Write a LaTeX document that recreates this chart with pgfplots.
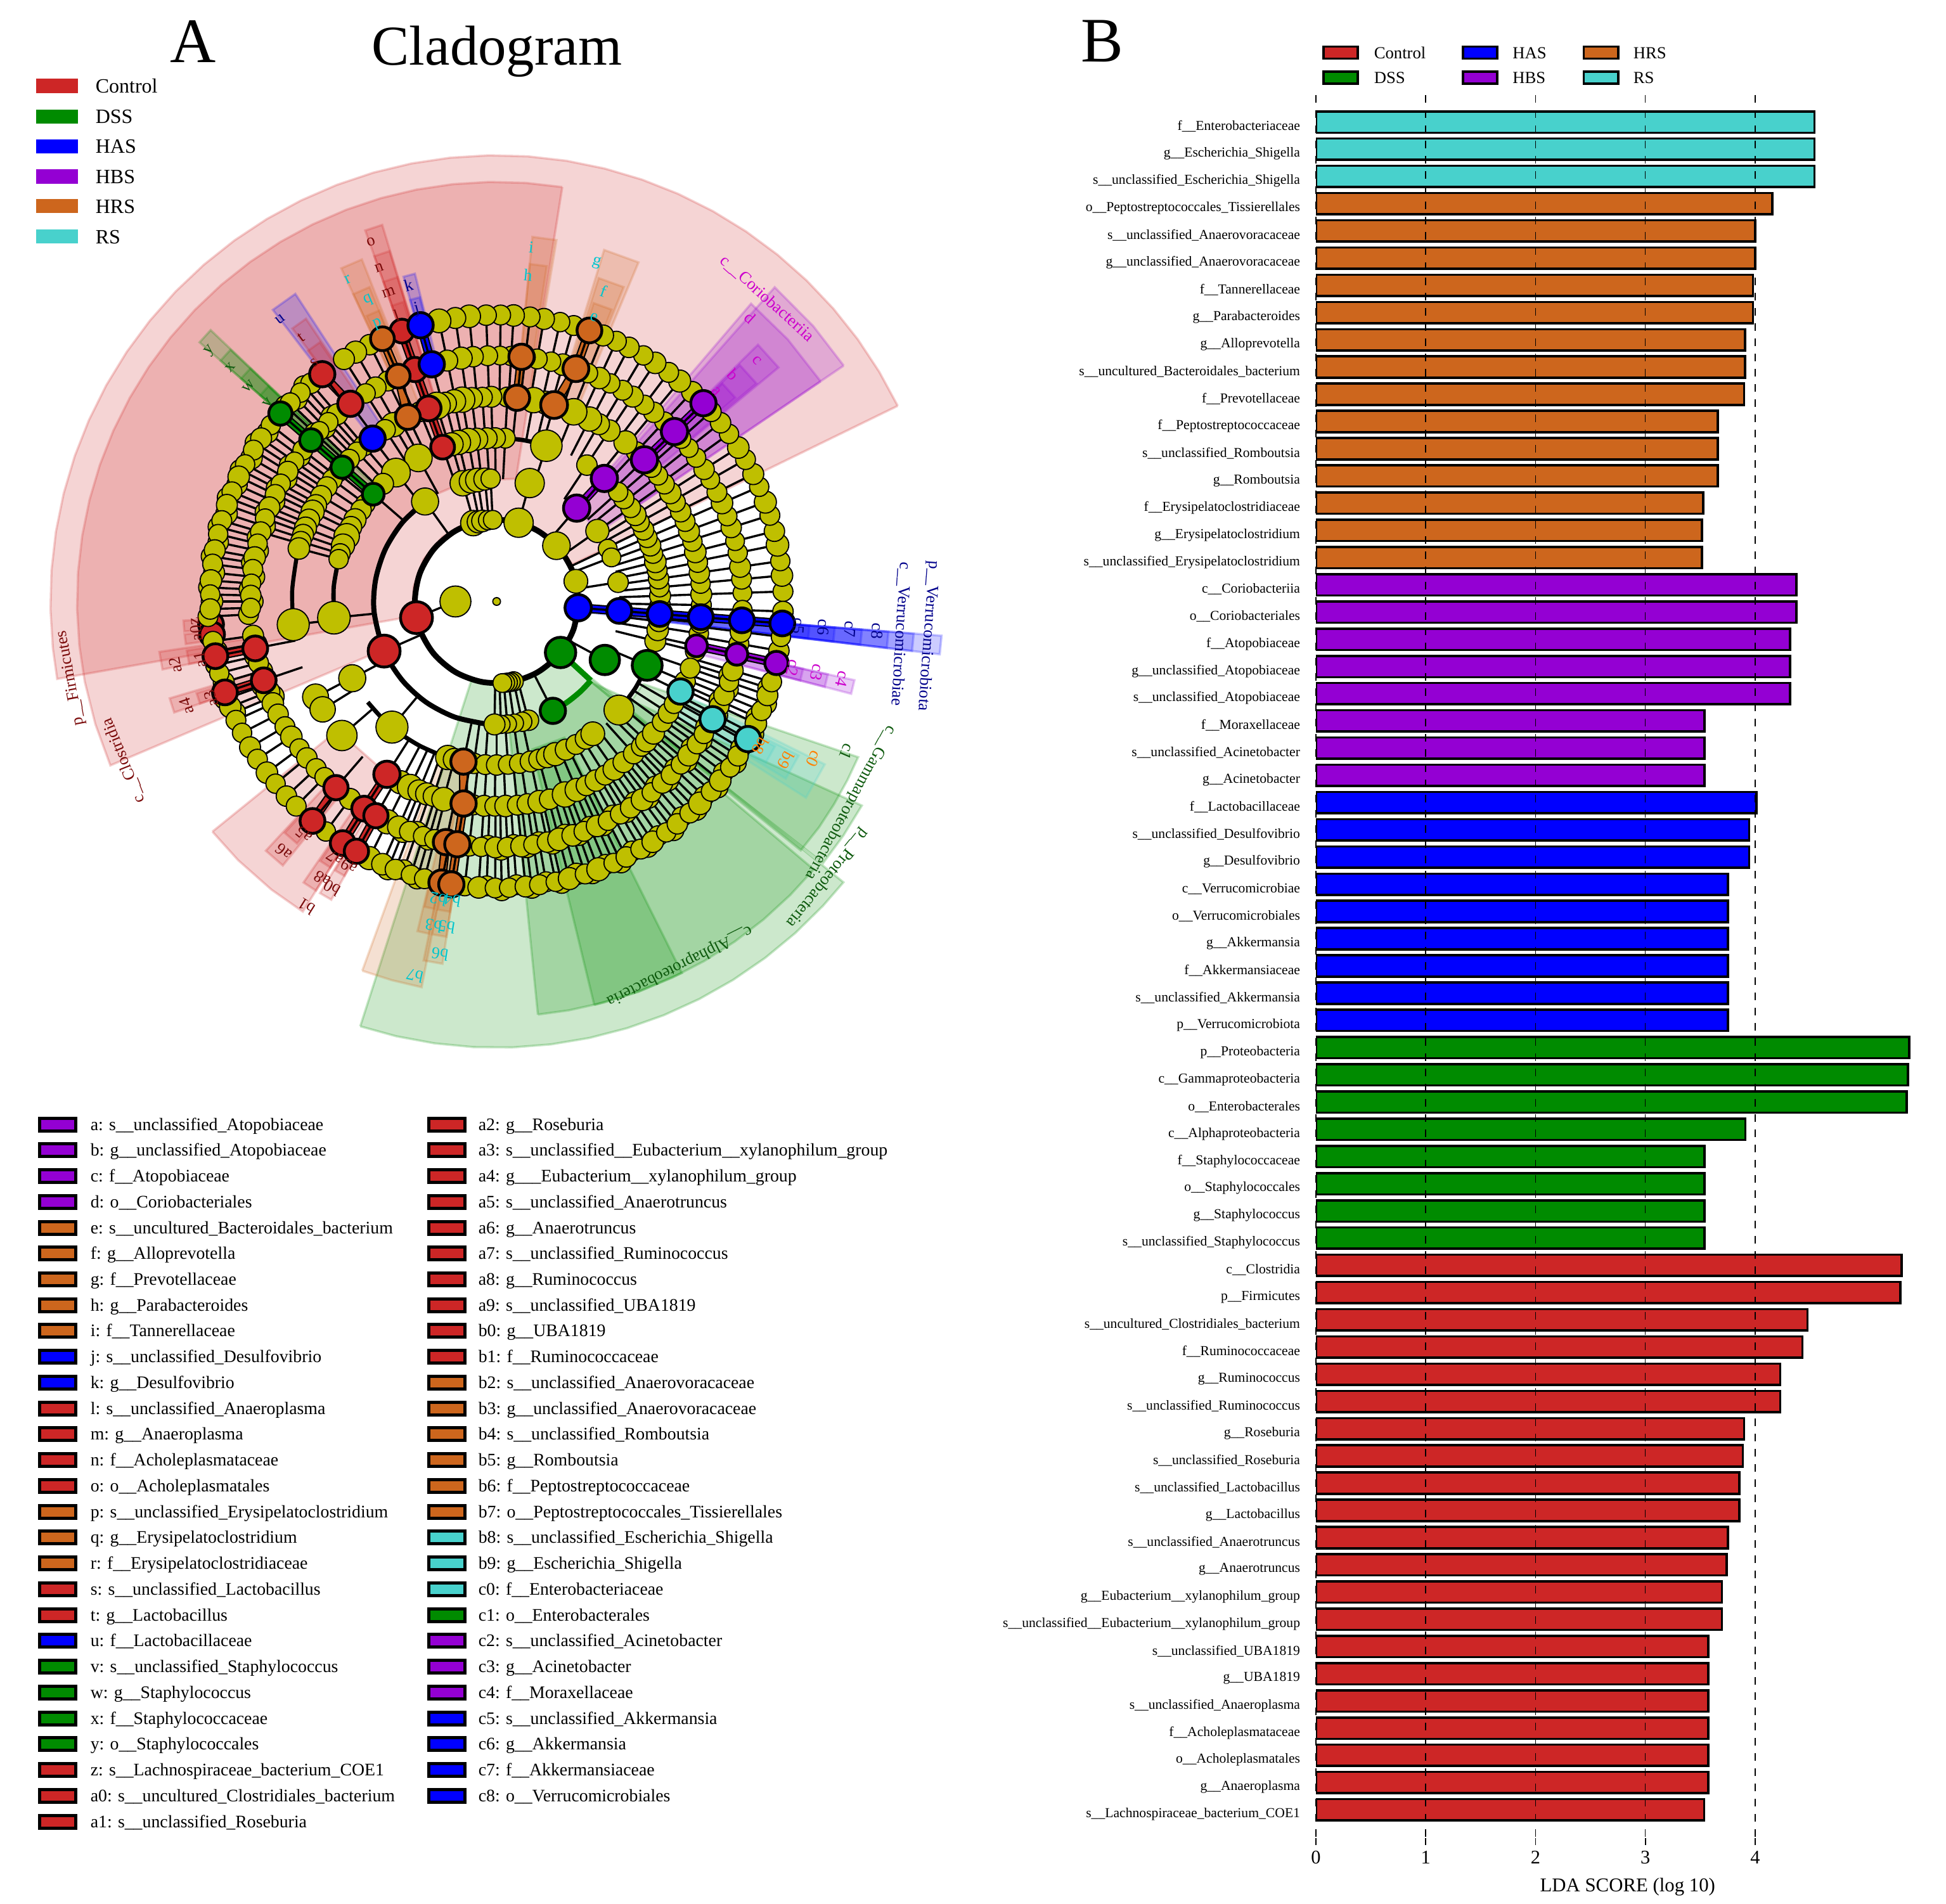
\documentclass[border=0pt]{standalone}
\usepackage{fontspec}
\setmainfont{Liberation Serif}
\usepackage{pgfplots}
\usepackage{pgfplotstable}
\pgfplotsset{compat=1.18}
\definecolor{ctrl}{HTML}{CD2626}
\definecolor{dss}{HTML}{008B00}
\definecolor{has}{HTML}{0000FF}
\definecolor{hbs}{HTML}{9400D3}
\definecolor{hrs}{HTML}{CD661D}
\definecolor{rs}{HTML}{48D1CC}
\definecolor{yel}{HTML}{BFBF00}
\definecolor{lred}{HTML}{7A0A0A}
\definecolor{lgrn}{HTML}{0E5A0E}
\definecolor{lblu}{HTML}{00008B}
\definecolor{lmag}{HTML}{CC00CC}
\definecolor{lcya}{HTML}{00C5CD}
\definecolor{lora}{HTML}{FF7F00}
\catcode`\_=12
\pgfdeclareplotmark{spoke}{\pgfpathmoveto{\pgfpointorigin}\pgfpathlineto{\pgfqpoint{-16.15pt}{0pt}}\pgfusepathqstroke}
\pgfdeclareplotmark{swa}{\pgfpathrectangle{\pgfqpoint{-8.2pt}{-2.8pt}}{\pgfqpoint{16.4pt}{5.6pt}}\pgfusepathqfill}
\pgfdeclareplotmark{swb}{\pgfpathrectangle{\pgfqpoint{-7.1pt}{-2.5pt}}{\pgfqpoint{14.2pt}{5pt}}\pgfusepathqfillstroke}
\pgfdeclareplotmark{swc}{\pgfpathrectangle{\pgfqpoint{-6.8pt}{-2.35pt}}{\pgfqpoint{13.6pt}{4.7pt}}\pgfusepathqfillstroke}
\pgfplotsset{
  wg/.style={no marks,fill=#1,draw=#1,fill opacity=.2,draw opacity=.22,line width=.9pt},
  spk/.style={only marks,scatter,mark=spoke,point meta=x,
    visualization depends on={\thisrow{a} \as \ang},
    scatter/@pre marker code/.code={\pgfscope\pgftransformrotate{\ang}\pgfsetlinewidth{.85pt}\pgfsetstrokecolor{black}},
    scatter/@post marker code/.code={\endpgfscope}},
  nd/.style n args={3}{only marks,scatter,mark=*,point meta=x,
    visualization depends on={\thisrow{#3} \as \pms},
    scatter/use mapped color={draw=black,fill=#1},
    mark options={line width=#2},
    scatter/@pre marker code/.append style={/tikz/mark size=\pms}},
  ndy/.style={only marks,scatter,mark=*,point meta=x,
    visualization depends on={\thisrow{#1} \as \pms},
    scatter/use mapped color={draw=black,fill=yel},
    mark options={line width=.45pt},
    scatter/@pre marker code/.append style={/tikz/mark size=1.09*\pms}},
  arc/.style={no marks,smooth,black,line width=#1},
}
\newcommand{\strp}[5]{\addplot[wg=#1] coordinates {(#2,#4)(#2,#5)(#3,#5)(#3,#4)(#2,#4)};}
\newcommand{\lnk}[2]{\addplot[black,line width=3.6pt,no marks] coordinates {#2};\addplot[#1,line width=2.5pt,no marks] coordinates {#2};}
\newcommand{\sm}[4]{\node[rotate=#3,text=#4,font=\fontsize{6.6}{8}\selectfont,inner sep=0pt] at (axis cs:#1,#2)}
\newcommand{\lgt}[3]{\node[anchor=base west,font=\fontsize{6.95}{8}\selectfont,inner sep=0pt] at (axis cs:#1,#2) {#3};}
% leaves: angle, then radius and size on the two outer rings
\pgfplotstableread[row sep=\\]{a r6 s6 r5 s5\\
2 452 3.6 388 3.4\\5.2 452 3.9 388 3.6\\8.1 452 3.5 388 3.8\\11.4 452 4.1 388 3.5\\14.2 452 3.7 388 3.4\\17.5 452 3.6 388 3.7\\20.3 452 4 388 3.5\\23.6 452 3.5 388 3.9\\26.4 452 3.8 388 3.6\\29.7 452 3.6 388 3.4\\32.5 452 3.9 388 3.7\\35.8 452 3.5 388 3.5\\38.6 452 3.7 388 3.4\\41.5 452 3.6 388 3.6\\47 452 3.8 388 3.5\\50.3 452 4 388 3.7\\53.1 452 3.6 388 3.5\\56.4 452 3.9 388 3.8\\59.2 452 3.5 388 3.6\\62.5 452 3.7 388 3.5\\65.3 452 3.6 388 3.9\\68.2 452 3.8 388 3.5\\74.4 452 3.6 388 3.9\\77.2 452 3.5 388 3.5\\80.5 452 3.8 388 3.6\\83.3 452 3.6 388 3.6\\86.6 452 3.9 388 3.5\\89.2 452 3.6 388 3.4\\92.1 452 3.7 388 3.6\\95.5 452 4.1 388 3.7\\98.3 452 3.8 388 4\\101.6 452 4.3 388 3.8\\116.3 452 3.7 388 3.6\\119.5 452 4 388 3.8\\122.2 452 3.8 388 3.5\\130.4 452 3.7 388 3.8\\133.2 452 3.5 388 3.5\\136.1 452 3.6 388 3.4\\142 452 3.5 388 3.6\\145.3 452 3.8 388 3.4\\148.1 452 3.6 388 3.7\\151.4 452 3.5 388 3.5\\154.2 452 3.9 388 3.6\\157.5 452 3.6 388 3.8\\160.3 452 3.8 388 3.5\\163.6 452 3.6 388 3.7\\166.4 452 3.5 388 3.5\\169.7 452 3.8 388 3.9\\172.5 452 3.6 388 3.6\\175.8 452 3.9 388 3.4\\178.6 452 3.5 388 3.7\\181.5 452 3.7 388 3.5\\188 452 3.6 388 3.8\\194.5 452 3.5 388 3.6\\201.6 452 3.9 388 4.3\\204.5 452 3.6 388 3.9\\207.3 452 3.5 388 3.7\\210.6 452 3.8 388 3.6\\213.4 452 3.6 388 3.9\\216.7 452 3.9 388 3.5\\219.5 452 3.5 388 3.7\\222.8 452 3.7 388 3.6\\225.6 452 3.6 388 3.5\\233.4 452 3.5 388 3.8\\243.6 452 4.2 388 4.4\\246.5 452 3.9 388 4\\249.3 452 3.7 388 3.7\\252.6 452 3.5 388 3.5\\255.4 452 3.6 388 3.6\\263.6 452 3.5 388 3.7\\266.4 452 3.9 388 3.5\\269.7 452 3.6 388 3.8\\272.5 452 3.5 388 3.6\\275.8 452 3.8 388 3.9\\278.6 452 3.6 388 3.5\\281.9 452 3.5 388 3.7\\284.7 452 4 388 4.1\\288 452 3.6 388 3.9\\290.8 452 4.2 388 3.6\\294.1 452 3.5 388 3.9\\296.9 452 3.7 388 3.5\\300.2 452 3.6 388 3.6\\303 452 3.9 388 3.7\\306.3 452 3.5 388 4\\309.1 452 3.7 388 3.5\\312.4 452 3.6 388 3.7\\315.2 452 4.1 388 3.6\\318.5 452 3.6 388 3.5\\321.3 452 3.9 388 3.9\\324.6 452 3.5 388 3.6\\327.4 452 3.7 388 3.5\\330.7 452 3.6 388 3.9\\334.8 452 3.9 388 3.6\\337.6 452 3.6 388 3.7\\340.9 452 3.8 388 3.5\\343.7 452 3.6 388 3.8\\350.1 452 3.7 388 3.6\\352.9 452 3.5 388 3.8\\358 452 3.7 388 3.5\\
}\tLeaf
% the more crowded sectors hold a second set of leaves, lying a little off the ring
\pgfplotstableread[row sep=\\]{a r6 s6 r5 s5\\
131.8 456 3.7 392 3.6\\134.6 448 3.6 384 3.5\\137.2 455 3.5 391 3.7\\143.6 449 3.8 385 3.6\\146.7 456 3.6 392 3.5\\149.7 448 3.9 384 3.8\\152.8 455 3.6 391 3.6\\155.8 449 3.7 385 3.9\\158.9 456 3.5 392 3.5\\162 448 3.9 384 3.7\\165 455 3.6 391 3.6\\168 449 3.7 385 3.8\\171 456 3.6 392 3.5\\174.2 448 3.8 384 3.7\\177.2 455 3.6 391 3.6\\180 449 3.9 385 3.8\\183 456 3.6 392 3.6\\190 448 3.7 384 3.6\\192.8 455 3.5 391 3.7\\196.5 449 3.8 385 3.6\\199.8 456 3.6 392 4\\203 448 3.7 384 4.2\\247.9 456 3.8 392 3.9\\250.9 448 3.6 384 3.6\\254 455 3.7 391 3.7\\268 449 3.6 385 3.6\\271 456 3.7 392 3.7\\274 448 3.6 384 3.5\\277 455 3.8 391 3.7\\280 449 3.6 385 3.6\\283 456 3.7 392 3.8\\286.3 448 3.9 384 3.9\\289.4 455 3.7 391 3.7\\292.5 449 3.6 385 3.8\\295.5 456 3.8 392 3.6\\298.5 448 3.6 384 3.7\\301.6 455 3.7 391 3.6\\304.6 449 3.6 385 3.9\\307.7 456 3.8 392 3.7\\310.7 448 3.6 384 3.6\\313.8 455 3.9 391 3.8\\316.8 449 3.6 385 3.6\\319.9 456 3.7 392 3.7\\323 448 3.6 384 3.6\\326 455 3.8 391 3.6\\329 449 3.6 385 3.7\\332.7 456 3.7 392 3.7\\336 448 3.6 384 3.6\\339.2 455 3.7 391 3.6\\342.3 449 3.6 385 3.7\\
}\tLeafb
\pgfplotstableread[row sep=\\]{a r s\\
-14 323 3.6\\-9 323 3.5\\-6 323 3.7\\-1 323 3.6\\2 323 3.8\\5 323 3.5\\8 323 3.7\\11 323 3.6\\14 323 3.9\\17 323 3.5\\20 323 3.8\\23 323 3.6\\26 323 3.7\\29 323 3.5\\32 323 3.9\\35 323 3.6\\38 323 3.5\\41 323 3.7\\47 323 3.6\\51 323 4.2\\56.6 323 3.9\\60 323 3.8\\63 323 4.4\\67.9 323 4.8\\76 323 4.2\\79.6 323 4.6\\87 323 3.6\\91.5 323 3.8\\94 323 3.6\\97 323 3.9\\99.7 323 4.6\\102 323 4.2\\104.5 323 4\\107 323 4.9\\112 323 3.6\\118 323 3.8\\120.3 323 4.4\\123 323 3.7\\130.5 323 3.7\\133 323 3.5\\136 323 3.6\\141 323 3.5\\143.4 323 3.6\\146 323 3.7\\149 323 3.8\\152 323 3.9\\154 323 4.2\\156.5 323 3.9\\159 323 4\\161 323 3.8\\163 323 3.7\\165 323 3.9\\186.5 323 5.8\\207.8 323 4.7\\211.8 323 4.6\\220.9 323 5.5\\242 323 4.2\\245 323 4.6\\247.7 323 4\\250 323 4\\252 323 3.7\\255 323 4.3\\263.5 323 3.6\\266.5 323 3.8\\269.5 323 3.6\\272.5 323 3.9\\275.8 323 3.6\\278.6 323 3.7\\282 323 4.1\\285 323 3.7\\289.5 323 4.6\\293 323 4.2\\296 323 3.7\\299 323 3.9\\302 323 3.6\\305 323 4\\308.3 323 3.8\\312 323 3.7\\315 323 3.6\\317 323 3.9\\320 323 4\\324 323 3.6\\327 323 3.7\\330 323 3.5\\337 323 3.7\\341 323 3.6\\
}\tLfour
\pgfplotstableread[row sep=\\]{a r s\\
-14 258 3.8\\-10 258 3.9\\-7 258 3.7\\-1 258 3.6\\2 258 3.8\\5 258 3.5\\8 258 3.7\\11 258 3.6\\14 258 3.9\\17 258 3.5\\20 258 3.8\\23 258 3.6\\26 258 3.7\\29 258 3.5\\32 258 3.9\\35 258 3.6\\39 258 3.7\\42 258 3.5\\56.5 258 3.7\\72.3 258 5.7\\87 258 3.6\\90.5 258 3.7\\93.5 258 3.8\\97 258 4\\100 258 4.4\\103.5 258 4.4\\106 258 4.2\\118.6 258 5\\128 258 5.2\\208 258 4.9\\230.2 258 5.8\\185.7 258 5.9\\262 258 3.7\\266 258 3.6\\270 258 3.7\\274 258 3.5\\278 258 3.6\\282 258 3.8\\
}\tLthree
\pgfplotstableread[row sep=\\]{a r s\\
134 258 3.8\\143.4 258 3.5\\146 258 3.7\\150 258 4\\153 258 3.9\\156.5 258 4.6\\160 258 4.2\\163 258 3.6\\165 258 3.5\\252.6 258 4.4\\255 258 4\\285 258 3.7\\288 258 3.9\\291 258 4.2\\295 258 3.8\\299 258 3.6\\303 258 3.8\\306 258 4.3\\318.4 258 5.4\\
}\tLthreeb
\pgfplotstableread[row sep=\\]{a r s\\
74.4 194 5.3\\106 194 4.6\\102 194 4.3\\99 194 4.3\\95.5 194 4\\92.8 194 3.5\\125.6 194 4.9\\35 194 4.2\\25.4 194 3.4\\21 194 3.4\\9 194 3.7\\-75 194 3.7\\-78 194 3.5\\-81.7 194 3.3\\-85 194 3.3\\-88 194 3.3\\-91 194 3.8\\
}\tLtwo
\pgfplotstableread[row sep=\\]{a r s\\
106.6 129 4.6\\103 129 4\\100 129 3.9\\96 129 3.5\\92.7 129 3.4\\74.4 129 5.3\\43 129 5\\14.3 129 4.3\\-78 129 3.5\\-80 129 3.4\\-82 129 3.4\\-84 129 3.4\\-86 129 3.4\\180 65 5.6\\0 0 1.4\\
}\tLone
\pgfplotstableread[row sep=\\]{a r s\\203.8 194 6.3\\109.3 258 4.7\\109.4 323 4.9\\109.4 388 4.8\\109.3 452 4.7\\126.5 388 5\\127.5 452 5\\191 388 4.9\\191 452 4.9\\198.7 388 4.9\\198.5 452 4.9\\229.2 388 4.8\\230 452 4.9\\237.6 323 5.2\\237.4 388 4.9\\240.6 388 4.8\\237.5 452 4.9\\240.7 452 4.8\\}\tRed
\pgfplotstableread[row sep=\\]{a r s\\105.3 388 5\\105.4 452 5\\127.3 323 5\\-4.4 194 4.9\\-4.4 258 4.9\\-4.4 323 4.9\\-4.4 388 4.9\\-4.4 452 4.9\\}\tBlue
\pgfplotstableread[row sep=\\]{a r s\\139 258 4.3\\139 323 4.4\\139 388 4.5\\139 452 4.6\\-28.4 194 5.8\\-23 258 5.9\\-62.8 194 5\\}\tGreen
\pgfplotstableread[row sep=\\]{a r s\\49.4 194 5.2\\48.8 258 5.2\\43.8 323 5.2\\43.7 388 5.2\\43.8 452 5\\-12.5 323 4.3\\-12.4 388 4.3\\-12.4 452 4.6\\}\tViolet
\pgfplotstableread[row sep=\\]{a r s\\73.7 323 5.3\\71.2 388 5.1\\71.1 452 4.9\\84.3 323 5\\84.2 388 5\\115.7 323 4.9\\113.6 388 4.7\\113.5 452 4.7\\258.3 258 5\\260.7 323 5\\258.1 388 5\\260.8 388 5\\258.9 452 5\\260.9 452 5\\}\tOrange
\pgfplotstableread[row sep=\\]{a r s\\-26.1 323 5\\-28.6 388 5\\-28.7 452 5\\}\tTeal
\begin{document}
\begin{tikzpicture}
\path[use as bounding box] (0,0) rectangle (767.5pt,750.75pt);
% panel A tree, in polar data around the centre of the cladogram
\begin{axis}[at={(0,0)},anchor=south west,scale only axis,width=767.5pt,height=750.75pt,
  xmin=-783.5,xmax=2286.5,ymin=-2054,ymax=949,hide axis,clip=false,data cs=polar,
  point meta min=-1000,point meta max=1000]
\addplot[wg=ctrl] coordinates {(26,704)(31,704)(36,704)(41,704)(46,704)(51,704)(56,704)(61,704)(66,704)(71,704)(76,704)(81,704)(86,704)(91,704)(96,704)(101,704)(106,704)(111,704)(116,704)(121,704)(126,704)(131,704)(136,704)(141,704)(146,704)(151,704)(156,704)(161,704)(166,704)(171,704)(176,704)(181,704)(186,704)(190,704)(190,133)(170,133)(150,133)(130,133)(110,133)(90,133)(70,133)(50,133)(26,133)(26,704)};
\addplot[wg=ctrl] coordinates {(81,662)(86,662)(91,662)(96,662)(101,662)(106,662)(111,662)(116,662)(121,662)(126,662)(131,662)(136,662)(141,662)(146,662)(151,662)(156,662)(161,662)(166,662)(171,662)(176,662)(181,662)(186,662)(191,662)(197,662)(203,662)(203,196)(183,196)(163,196)(143,196)(123,196)(103,196)(81,196)(81,662)};
\addplot[wg=ctrl] coordinates {(219,577)(225,577)(232,577)(238,577)(238,323)(219,323)(219,577)};
\addplot[wg=dss] coordinates {(252.2,704)(257,704)(262,704)(267,704)(272,704)(277,704)(282,704)(287,704)(292,704)(297,704)(302,704)(307,704)(312,704)(317,704)(321,704)(321,131)(300,131)(280,131)(252.2,131)(252.2,704)};
\addplot[wg=dss] coordinates {(275.7,655)(280,655)(285,655)(290,655)(295,655)(300,655)(305,655)(310,655)(315,655)(319.8,655)(319.8,196)(300,196)(275.7,196)(275.7,655)};
\addplot[wg=dss] coordinates {(283.6,655)(290,655)(296.5,655)(296.5,240)(283.6,240)(283.6,655)};
\addplot[wg=dss] coordinates {(-40.4,198)(-29.2,660)(-34,660)(-38.7,660)(-40.4,198)};
\addplot[wg=dss] coordinates {(-29.4,265)(-23.3,621)(-27,621)(-31,621)(-35,621)(-39.3,620)(-40,265)(-29.4,265)};
\addplot[wg=hrs] coordinates {(250,620)(254.5,620)(259,620)(259,258)(250,258)(250,620)};
\addplot[wg=hbs] coordinates {(34.2,662)(41,662)(48.5,662)(48.5,194)(34.2,194)(34.2,662)};
\addplot[wg=hbs] coordinates {(34.2,618)(42,618)(49.5,618)(49.5,258)(34.2,258)(34.2,618)};
\strp{hbs}{39.7}{44.5}{323}{578}\strp{hbs}{40}{44.2}{388}{535}\strp{hbs}{40.5}{44}{452}{495}
\strp{hrs}{80.6}{84.4}{323}{578}\strp{hrs}{81.5}{84.4}{388}{535}
\strp{hrs}{67.3}{73}{323}{580}\strp{hrs}{68}{72.5}{388}{535}\strp{hrs}{68.5}{72}{452}{495}
\strp{hrs}{111.5}{115}{323}{580}\strp{hrs}{112}{115}{388}{535}\strp{hrs}{112}{114.5}{452}{495}
\strp{ctrl}{106.9}{109.5}{258}{621}\strp{ctrl}{107}{109.5}{323}{578}\strp{ctrl}{107}{109.5}{388}{535}\strp{ctrl}{107.3}{109.5}{452}{495}
\strp{has}{104}{106}{388}{533}\strp{has}{104.2}{106}{452}{495}
\strp{has}{123.2}{127.5}{323}{580}\strp{ctrl}{124}{126.8}{388}{538}\strp{ctrl}{124.3}{127}{452}{495}
\strp{dss}{136.5}{138.9}{258}{622}\strp{dss}{136.6}{138.9}{323}{578}\strp{dss}{136.6}{138.9}{388}{535}\strp{dss}{136.7}{138.9}{452}{495}
\strp{ctrl}{188.5}{191.5}{388}{538}\strp{ctrl}{189}{191.5}{452}{495}
\strp{ctrl}{196.5}{199}{388}{538}\strp{ctrl}{197}{199}{452}{495}
\strp{ctrl}{183.5}{185.5}{452}{495}\strp{ctrl}{186}{187.8}{452}{495}
\strp{ctrl}{227.2}{231}{388}{536}\strp{ctrl}{227.5}{230.5}{452}{495}
\strp{ctrl}{235.5}{238}{388}{538}\strp{ctrl}{235.8}{238}{452}{495}
\strp{ctrl}{238.8}{241}{388}{538}\strp{ctrl}{239}{241}{452}{495}
\strp{hrs}{258.5}{261.5}{323}{578}\strp{hrs}{256.5}{258.5}{388}{535}\strp{hrs}{259}{261.5}{388}{535}
\strp{hrs}{256.7}{258.5}{452}{495}\strp{hrs}{259.2}{261.5}{452}{495}
\strp{rs}{-32.4}{-26.4}{323}{578}\strp{rs}{-31.5}{-27}{388}{535}\strp{rs}{-31}{-27.5}{452}{495}
\strp{has}{-6.8}{-4.4}{129}{704}\strp{has}{-6.8}{-4.4}{194}{660}\strp{has}{-6.8}{-4.4}{258}{620}\strp{has}{-6.8}{-4.4}{323}{578}\strp{has}{-6.8}{-4.4}{388}{535}\strp{has}{-6.8}{-4.4}{452}{495}
\strp{hbs}{-14.6}{-12.4}{323}{578}\strp{hbs}{-14.6}{-12.4}{388}{535}\strp{hbs}{-14.6}{-12.4}{452}{495}
% arcs
\addplot[arc=2.25pt] coordinates {(0,129)(20,129)(40,129)(60,129)(80,129)(100,129)(120,129)(140,129)(160,129)(180,129)(200,129)(220,129)(240,129)(260,129)(280,129)(300,129)(320,129)(340,129)(360,129)};
\addplot[arc=2pt] coordinates {(125.6,194)(140,194)(155,194)(170,194)(185,194)(204,194)(220,194)(235,194)(250,194)(265,194)};
\addplot[arc=1.7pt] coordinates {(165,258)(175,258)(186,258)};
\addplot[arc=1.7pt] coordinates {(218,258)(226,258)(234,258)(242,258)(250,258)};
\addplot[arc=1.7pt] coordinates {(76,258)(81,258)(87,258)};
\addplot[arc=1.7pt] coordinates {(-23,258)(-32,258)(-41.6,258)};
\addplot[arc=1.6pt] coordinates {(168,323)(177,323)(186.5,323)};
\addplot[black,line width=.85pt,no marks] coordinates {(180,65)(191.4,129)};
\addplot[dss,line width=2.2pt,no marks] coordinates {(-38.6,129)(-40,194)};
\addplot[dss,line width=2.2pt,no marks,smooth] coordinates {(-40,194)(-47,194)(-55,194)(-62.8,194)};
% spokes run from each node to the next ring inwards
\addplot[spk] table[x=a,y=r6] {\tLeaf};
\addplot[spk,skip coords between index={46}{64}] table[x=a,y=r5] {\tLeaf};
\addplot[spk] table[x=a,y=r6] {\tLeafb};
\addplot[spk,skip coords between index={10}{22}] table[x=a,y=r5] {\tLeafb};
\addplot[spk] table[x=a,y=r] {\tLfour};
\addplot[spk] table[x=a,y=r] {\tLthree};
\addplot[spk] table[x=a,y=r] {\tLtwo};
\addplot[spk] table[x=a,y=r] {\tRed};
\addplot[spk] table[x=a,y=r] {\tBlue};
\addplot[spk] table[x=a,y=r] {\tGreen};
\addplot[spk] table[x=a,y=r] {\tViolet};
\addplot[spk] table[x=a,y=r] {\tOrange};
\addplot[spk] table[x=a,y=r] {\tTeal};
\addplot[nd={ctrl}{1.1pt}{s}] table[x=a,y=r,row sep=\\] {a r s\\184.6 452 4.9\\186.6 452 4.9\\};
\addplot[ndy=s5] table[x=a,y=r5] {\tLeafb};
\addplot[ndy=s6] table[x=a,y=r6] {\tLeafb};
\addplot[ndy=s5] table[x=a,y=r5] {\tLeaf};
\addplot[ndy=s6] table[x=a,y=r6] {\tLeaf};
\addplot[ndy=s] table[x=a,y=r] {\tLfour};
\addplot[ndy=s] table[x=a,y=r] {\tLthree};
\addplot[ndy=s] table[x=a,y=r] {\tLthreeb};
\addplot[ndy=s] table[x=a,y=r] {\tLtwo};
\addplot[ndy=s] table[x=a,y=r] {\tLone};
% branches of the groups
\lnk{ctrl}{(109.3,258)(109.4,452)}
\lnk{ctrl}{(126.5,388)(127.5,452)}
\lnk{ctrl}{(191,388)(191,452)}
\lnk{ctrl}{(198.7,388)(198.5,452)}
\lnk{ctrl}{(229.2,388)(230,452)}
\lnk{ctrl}{(237.6,323)(237.4,388)(237.5,452)}
\lnk{ctrl}{(240.6,388)(240.7,452)}
\lnk{has}{(105.3,388)(105.4,452)}
\lnk{has}{(-4.4,129)(-4.4,452)}
\lnk{dss}{(139,258)(139,452)}
\lnk{hbs}{(49.4,194)(48.8,258)}
\lnk{hbs}{(43.8,323)(43.8,452)}
\lnk{hbs}{(-12.5,323)(-12.4,452)}
\lnk{hrs}{(73.7,323)(71.2,388)(71.1,452)}
\lnk{hrs}{(84.3,323)(84.2,388)}
\lnk{hrs}{(115.7,323)(113.6,388)(113.5,452)}
\lnk{hrs}{(258.3,258)(260.7,323)(260.8,388)(260.9,452)}
\lnk{hrs}{(258.1,388)(258.9,452)}
\addplot[nd={ctrl}{1.1pt}{s}] table[x=a,y=r] {\tRed};
\addplot[nd={ctrl}{1.1pt}{s},] table[x=a,y=r,row sep=\\] {a r s\\191.4 129 6.3\\};
\addplot[nd={has}{1.1pt}{s}] table[x=a,y=r] {\tBlue};
\addplot[nd={has}{1.1pt}{s}] table[x=a,y=r,row sep=\\] {a r s\\-4.4 129 5.2\\};
\addplot[nd={dss}{1.1pt}{s}] table[x=a,y=r] {\tGreen};
\addplot[nd={dss}{1.1pt}{s}] table[x=a,y=r,row sep=\\] {a r s\\-38.6 129 6\\};
\addplot[nd={hbs}{1.1pt}{s}] table[x=a,y=r] {\tViolet};
\addplot[nd={hrs}{1.1pt}{s}] table[x=a,y=r] {\tOrange};
\addplot[nd={rs}{1.1pt}{s}] table[x=a,y=r] {\tTeal};
\end{axis}
% titles, labels and legends of panel A, in picture coordinates
\begin{axis}[at={(0,0)},anchor=south west,scale only axis,width=767.5pt,height=750.75pt,
  xmin=0,xmax=3070,ymin=0,ymax=3003,y dir=reverse,hide axis,clip=false]
\node[font=\fontsize{25}{30}\selectfont] at (axis cs:305,65) {A};
\node[font=\fontsize{25}{30}\selectfont] at (axis cs:1739,65) {B};
\node[font=\fontsize{22.2}{26}\selectfont] at (axis cs:784,81) {Cladogram};
\addplot[only marks,mark=swa,mark options={fill=ctrl,draw=none}] coordinates {(90,135.5)};
\addplot[only marks,mark=swa,mark options={fill=dss,draw=none}] coordinates {(90,184)};
\addplot[only marks,mark=swa,mark options={fill=has,draw=none}] coordinates {(90,231)};
\addplot[only marks,mark=swa,mark options={fill=hbs,draw=none}] coordinates {(90,278.6)};
\addplot[only marks,mark=swa,mark options={fill=hrs,draw=none}] coordinates {(90,325)};
\addplot[only marks,mark=swa,mark options={fill=rs,draw=none}] coordinates {(90,373)};
\foreach \t/\y in {Control/146,DSS/194,HAS/241,HBS/289,HRS/336,RS/384}{
  \edef\tmp{\noexpand\node[anchor=base west,font=\noexpand\fontsize{8}{10}\noexpand\selectfont,inner sep=0pt] at (axis cs:150,\y) {\t};}\tmp}
% lower key
\addplot[only marks,mark=swb,mark options={fill=hbs,draw=black,line width=1.25pt}] coordinates {(91,1774)(91,1814.7)(91,1855.5)(91,1896.2)(705,2588.8)(705,2629.5)(705,2670.3)};
\addplot[only marks,mark=swb,mark options={fill=hrs,draw=black,line width=1.25pt}] coordinates {(91,1937)(91,1977.7)(91,2018.4)(91,2059.2)(91,2099.9)(91,2385.1)(91,2425.8)(91,2466.6)(705,2181.4)(705,2222.1)(705,2262.9)(705,2303.6)(705,2344.4)(705,2385.1)};
\addplot[only marks,mark=swb,mark options={fill=has,draw=black,line width=1.25pt}] coordinates {(91,2140.7)(91,2181.4)(91,2588.8)(705,2711)(705,2751.8)(705,2792.5)(705,2833.2)};
\addplot[only marks,mark=swb,mark options={fill=ctrl,draw=black,line width=1.25pt}] coordinates {(91,2222.1)(91,2262.9)(91,2303.6)(91,2344.4)(91,2507.3)(91,2548.1)(91,2792.5)(91,2833.2)(91,2874)(705,1774)(705,1814.7)(705,1855.5)(705,1896.2)(705,1937)(705,1977.7)(705,2018.4)(705,2059.2)(705,2099.9)(705,2140.7)};
\addplot[only marks,mark=swb,mark options={fill=dss,draw=black,line width=1.25pt}] coordinates {(91,2629.5)(91,2670.3)(91,2711)(91,2751.8)(705,2548.1)};
\addplot[only marks,mark=swb,mark options={fill=rs,draw=black,line width=1.25pt}] coordinates {(705,2425.8)(705,2466.6)(705,2507.3)};
\lgt{142}{1783}{a: s__unclassified_Atopobiaceae}
\lgt{142}{1823.7}{b: g__unclassified_Atopobiaceae}
\lgt{142}{1864.5}{c: f__Atopobiaceae}
\lgt{142}{1905.2}{d: o__Coriobacteriales}
\lgt{142}{1946}{e: s__uncultured_Bacteroidales_bacterium}
\lgt{142}{1986.7}{f: g__Alloprevotella}
\lgt{142}{2027.4}{g: f__Prevotellaceae}
\lgt{142}{2068.2}{h: g__Parabacteroides}
\lgt{142}{2108.9}{i: f__Tannerellaceae}
\lgt{142}{2149.7}{j: s__unclassified_Desulfovibrio}
\lgt{142}{2190.4}{k: g__Desulfovibrio}
\lgt{142}{2231.1}{l: s__unclassified_Anaeroplasma}
\lgt{142}{2271.9}{m: g__Anaeroplasma}
\lgt{142}{2312.6}{n: f__Acholeplasmataceae}
\lgt{142}{2353.4}{o: o__Acholeplasmatales}
\lgt{142}{2394.1}{p: s__unclassified_Erysipelatoclostridium}
\lgt{142}{2434.8}{q: g__Erysipelatoclostridium}
\lgt{142}{2475.6}{r: f__Erysipelatoclostridiaceae}
\lgt{142}{2516.3}{s: s__unclassified_Lactobacillus}
\lgt{142}{2557.1}{t: g__Lactobacillus}
\lgt{142}{2597.8}{u: f__Lactobacillaceae}
\lgt{142}{2638.5}{v: s__unclassified_Staphylococcus}
\lgt{142}{2679.3}{w: g__Staphylococcus}
\lgt{142}{2720}{x: f__Staphylococcaceae}
\lgt{142}{2760.8}{y: o__Staphylococcales}
\lgt{142}{2801.5}{z: s__Lachnospiraceae_bacterium_COE1}
\lgt{142}{2842.2}{a0: s__uncultured_Clostridiales_bacterium}
\lgt{142}{2883}{a1: s__unclassified_Roseburia}
\lgt{754}{1783}{a2: g__Roseburia}
\lgt{754}{1823.7}{a3: s__unclassified__Eubacterium__xylanophilum_group}
\lgt{754}{1864.5}{a4: g___Eubacterium__xylanophilum_group}
\lgt{754}{1905.2}{a5: s__unclassified_Anaerotruncus}
\lgt{754}{1946}{a6: g__Anaerotruncus}
\lgt{754}{1986.7}{a7: s__unclassified_Ruminococcus}
\lgt{754}{2027.4}{a8: g__Ruminococcus}
\lgt{754}{2068.2}{a9: s__unclassified_UBA1819}
\lgt{754}{2108.9}{b0: g__UBA1819}
\lgt{754}{2149.7}{b1: f__Ruminococcaceae}
\lgt{754}{2190.4}{b2: s__unclassified_Anaerovoracaceae}
\lgt{754}{2231.1}{b3: g__unclassified_Anaerovoracaceae}
\lgt{754}{2271.9}{b4: s__unclassified_Romboutsia}
\lgt{754}{2312.6}{b5: g__Romboutsia}
\lgt{754}{2353.4}{b6: f__Peptostreptococcaceae}
\lgt{754}{2394.1}{b7: o__Peptostreptococcales_Tissierellales}
\lgt{754}{2434.8}{b8: s__unclassified_Escherichia_Shigella}
\lgt{754}{2475.6}{b9: g__Escherichia_Shigella}
\lgt{754}{2516.3}{c0: f__Enterobacteriaceae}
\lgt{754}{2557.1}{c1: o__Enterobacterales}
\lgt{754}{2597.8}{c2: s__unclassified_Acinetobacter}
\lgt{754}{2638.5}{c3: g__Acinetobacter}
\lgt{754}{2679.3}{c4: f__Moraxellaceae}
\lgt{754}{2720}{c5: s__unclassified_Akkermansia}
\lgt{754}{2760.8}{c6: g__Akkermansia}
\lgt{754}{2801.5}{c7: f__Akkermansiaceae}
\lgt{754}{2842.2}{c8: o__Verrucomicrobiales}
% cladogram letters
\sm{1183}{501}{-42}{lmag}{d};\sm{1194}{569}{-47}{lmag}{c};\sm{1156.6}{591}{-46}{lmag}{b};\sm{1129.7}{617}{-46}{lmag}{a};
\sm{937}{501}{-19}{lcya}{e};\sm{952}{459}{-19}{lcya}{f};\sm{941}{415}{-16}{lcya}{g};\sm{833}{433.6}{-5.5}{lcya}{h};\sm{838}{390}{-5.5}{lcya}{i};
\sm{596}{512}{23}{lcya}{p};\sm{581}{474}{23}{lcya}{q};\sm{548.6}{441}{25}{lcya}{r};
\sm{657.5}{488}{15}{lblu}{j};\sm{644.5}{450}{15.6}{lblu}{k};\sm{442}{504}{37.5}{lblu}{u};
\sm{625.5}{498}{19}{lred}{l};\sm{613}{461}{19}{lred}{m};\sm{598}{422.8}{19}{lred}{n};\sm{585}{381.6}{19}{lred}{o};\sm{495.7}{572.5}{37}{lred}{s};\sm{474.6}{532}{36.5}{lred}{t};
\sm{331}{553}{49}{lgrn}{y};\sm{362.8}{580}{49}{lgrn}{x};\sm{392}{609}{49}{lgrn}{w};\sm{422.7}{635.4}{49}{lgrn}{v};
\sm{308.5}{980}{94}{lred}{z};\sm{310}{999}{96}{lred}{a0};\sm{316}{1040.6}{101}{lred}{a1};\sm{276.8}{1049}{101}{lred}{a2};\sm{333}{1102}{109}{lred}{a3};\sm{294.6}{1114}{108.6}{lred}{a4};
\sm{479.4}{1317}{140}{lred}{a5};\sm{447.8}{1344}{140}{lred}{a6};\sm{528}{1353.5}{148}{lred}{a7};\sm{508}{1386}{148}{lred}{a8};\sm{550.4}{1367}{151}{lred}{a9};\sm{523.7}{1401}{150}{lred}{b0};\sm{483.5}{1430}{148}{lred}{b1};
\sm{691}{1418.6}{169}{lcya}{b2};\sm{684}{1460.6}{169}{lcya}{b3};\sm{713.4}{1420.5}{171}{lcya}{b4};\sm{704.5}{1462.6}{171}{lcya}{b5};\sm{694}{1505}{171}{lcya}{b6};\sm{654.4}{1539.3}{168}{lcya}{b7};
\sm{1199.6}{1177}{-119}{lora}{b8};\sm{1239.7}{1199.6}{-119}{lora}{b9};\sm{1284}{1197}{-116}{lora}{c0};\sm{1335.7}{1186}{-113}{lgrn}{c1};
\sm{1251}{1053.6}{-102.6}{lmag}{c2};\sm{1289}{1061}{-102.6}{lmag}{c3};\sm{1329}{1071.4}{-102.6}{lmag}{c4};
\sm{1260}{987.5}{-94}{lblu}{c5};\sm{1299}{990}{-94}{lblu}{c6};\sm{1341}{993}{-94}{lblu}{c7};\sm{1384}{996}{-94}{lblu}{c8};
\sm{112}{1070}{100.6}{lred}{p__Firmicutes};
\sm{195}{1200}{111.8}{lred}{c__Clostridia};
\sm{1210}{471}{-42}{lmag}{c__Coriobacteriia};
\sm{1464}{1003}{-94.1}{lblu}{p__Verrucomicrobiota};
\sm{1421}{1000}{-93.4}{lblu}{c__Verrucomicrobiae};
\sm{1342}{1266}{-118.6}{lgrn}{c__Gammaproteobacteria};
\sm{1305}{1385}{-129}{lgrn}{p__Proteobacteria};
\sm{1072.5}{1523}{206.9}{lgrn}{c__Alphaproteobacteria};
% panel B key
\addplot[only marks,mark=swc,mark options={fill=ctrl,draw=black,line width=.9pt}] coordinates {(2115,83)};
\addplot[only marks,mark=swc,mark options={fill=dss,draw=black,line width=.9pt}] coordinates {(2115,122.5)};
\addplot[only marks,mark=swc,mark options={fill=has,draw=black,line width=.9pt}] coordinates {(2335,83)};
\addplot[only marks,mark=swc,mark options={fill=hbs,draw=black,line width=.9pt}] coordinates {(2335,122.5)};
\addplot[only marks,mark=swc,mark options={fill=hrs,draw=black,line width=.9pt}] coordinates {(2525.5,83)};
\addplot[only marks,mark=swc,mark options={fill=rs,draw=black,line width=.9pt}] coordinates {(2525.5,122.5)};
\foreach \t/\x/\y in {Control/2167/92,DSS/2167/131,HAS/2385.6/92,HBS/2385.6/131,HRS/2576/92,RS/2576/131}{
  \edef\tmp{\noexpand\node[anchor=base west,font=\noexpand\fontsize{6.67}{8}\noexpand\selectfont,inner sep=0pt] at (axis cs:\x,\y) {\t};}\tmp}
\end{axis}
% panel B
\begin{axis}[at={(519pt,25.75pt)},anchor=south west,scale only axis,width=242.5pt,height=687.5pt,
  xbar,bar shift=0pt,bar width=8.4pt,y dir=reverse,
  xmin=0,xmax=5.6,ymin=-.99,ymax=63.04,
  xtick={0,1,2,3,4},xmajorgrids,grid style={black,dashed,line width=.4pt},
  axis on top,axis line style={draw=none},
  xtick pos=lower,xticklabel pos=lower,major tick length=2.75pt,tick align=outside,
  x tick style={black,line width=.45pt},y tick style={draw=none},
  /pgf/number format/assume math mode=true,
  xticklabel style={font=\fontsize{7.6}{9}\selectfont,yshift=1.2pt},
  yticklabel style={font=\fontsize{5.41}{7}\selectfont,inner xsep=0pt,xshift=-3.3pt,yshift=-1.8pt},
  ytick={0,...,62},
  yticklabels={f__Enterobacteriaceae,g__Escherichia_Shigella,s__unclassified_Escherichia_Shigella,o__Peptostreptococcales_Tissierellales,s__unclassified_Anaerovoracaceae,g__unclassified_Anaerovoracaceae,f__Tannerellaceae,g__Parabacteroides,g__Alloprevotella,s__uncultured_Bacteroidales_bacterium,f__Prevotellaceae,f__Peptostreptococcaceae,s__unclassified_Romboutsia,g__Romboutsia,f__Erysipelatoclostridiaceae,g__Erysipelatoclostridium,s__unclassified_Erysipelatoclostridium,c__Coriobacteriia,o__Coriobacteriales,f__Atopobiaceae,g__unclassified_Atopobiaceae,s__unclassified_Atopobiaceae,f__Moraxellaceae,s__unclassified_Acinetobacter,g__Acinetobacter,f__Lactobacillaceae,s__unclassified_Desulfovibrio,g__Desulfovibrio,c__Verrucomicrobiae,o__Verrucomicrobiales,g__Akkermansia,f__Akkermansiaceae,s__unclassified_Akkermansia,p__Verrucomicrobiota,p__Proteobacteria,c__Gammaproteobacteria,o__Enterobacterales,c__Alphaproteobacteria,f__Staphylococcaceae,o__Staphylococcales,g__Staphylococcus,s__unclassified_Staphylococcus,c__Clostridia,p__Firmicutes,s__uncultured_Clostridiales_bacterium,f__Ruminococcaceae,g__Ruminococcus,s__unclassified_Ruminococcus,g__Roseburia,s__unclassified_Roseburia,s__unclassified_Lactobacillus,g__Lactobacillus,s__unclassified_Anaerotruncus,g__Anaerotruncus,g__Eubacterium__xylanophilum_group,s__unclassified__Eubacterium__xylanophilum_group,s__unclassified_UBA1819,g__UBA1819,s__unclassified_Anaeroplasma,f__Acholeplasmataceae,o__Acholeplasmatales,g__Anaeroplasma,s__Lachnospiraceae_bacterium_COE1},
  xlabel={LDA SCORE (log 10)},
  xlabel style={font=\fontsize{7.7}{9}\selectfont,at={(axis description cs:.507,-.028)},anchor=center},
  every axis plot/.append style={draw=black,line width=.9pt}]
\addplot[fill=rs] coordinates {(4.54,0)(4.54,1)(4.54,2)};
\addplot[fill=hrs] coordinates {(4.157,3)(4,4)(4,5)(3.98,6)(3.98,7)(3.91,8)(3.91,9)(3.9,10)(3.66,11)(3.66,12)(3.66,13)(3.527,14)(3.516,15)(3.516,16)};
\addplot[fill=hbs] coordinates {(4.375,17)(4.375,18)(4.318,19)(4.318,20)(4.318,21)(3.538,22)(3.538,23)(3.538,24)};
\addplot[fill=has] coordinates {(4.013,25)(3.945,26)(3.945,27)(3.753,28)(3.753,29)(3.753,30)(3.753,31)(3.753,32)(3.753,33)};
\addplot[fill=dss] coordinates {(5.404,34)(5.392,35)(5.381,36)(3.911,37)(3.538,38)(3.538,39)(3.538,40)(3.538,41)};
\addplot[fill=ctrl] coordinates {(5.336,42)(5.324,43)(4.477,44)(4.431,45)(4.228,46)(4.228,47)(3.9,48)(3.889,49)(3.855,50)(3.855,51)(3.753,52)(3.742,53)(3.697,54)(3.697,55)(3.572,56)(3.572,57)(3.575,58)(3.575,59)(3.575,60)(3.575,61)(3.536,62)};
\end{axis}
\end{tikzpicture}
\end{document}
